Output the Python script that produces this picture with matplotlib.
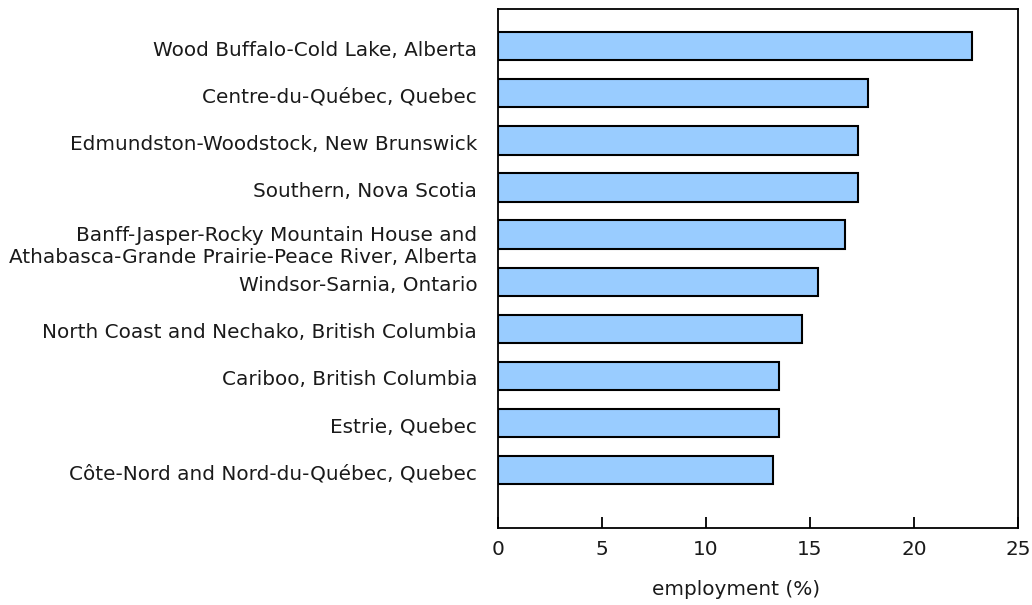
import matplotlib
matplotlib.use("Agg")
import matplotlib.pyplot as plt
from matplotlib.transforms import ScaledTranslation

# regions, top to bottom
regions = [
    "Wood Buffalo-Cold Lake, Alberta",
    "Centre-du-Québec, Quebec",
    "Edmundston-Woodstock, New Brunswick",
    "Southern, Nova Scotia",
    "Banff-Jasper-Rocky Mountain House and\nAthabasca-Grande Prairie-Peace River, Alberta",
    "Windsor-Sarnia, Ontario",
    "North Coast and Nechako, British Columbia",
    "Cariboo, British Columbia",
    "Estrie, Quebec",
    "Côte-Nord and Nord-du-Québec, Quebec",
]
employment = [22.8, 17.8, 17.3, 17.3, 16.7, 15.4, 14.6, 13.5, 13.5, 13.2]
xticks = [0, 5, 10, 15, 20, 25]

plt.rcParams["font.family"] = ["DejaVu Sans"]

fig = plt.figure(figsize=(10.32, 6.05), dpi=100)
ax = fig.add_axes([0.4826, 0.1273, 0.5038, 0.8578])

ypos = list(range(len(regions) - 1, -1, -1))
ax.barh(ypos, employment, height=0.6, color="#99ccff",
        edgecolor="black", linewidth=1.5)

ax.set_xlim(0, 25)
ax.set_ylim(-1.23, 9.79)
ax.set_xticks(xticks)
ax.set_yticks(ypos)
ax.set_yticklabels(regions, fontsize=14.4, linespacing=1.25, color="#1a1a1a")
ax.tick_params(axis="y", length=0, pad=15)
ax.tick_params(axis="x", direction="in", length=8, width=1.3,
               pad=9, labelsize=14.4, labelcolor="#1a1a1a")

# nudge labels a little lower, the two-line one a bit more
for i, lab in enumerate(ax.get_yticklabels()):
    dy = -8 if "\n" in regions[i] else -2
    lab.set_transform(lab.get_transform() + ScaledTranslation(0, dy / 100, fig.dpi_scale_trans))

for s in ax.spines.values():
    s.set_linewidth(1.3)

ax.set_xlabel("employment (%)", fontsize=14.4, color="#1a1a1a")
ax.xaxis.set_label_coords((736 - 498) / 520, -0.1)

fig.savefig("out.png", dpi=100)
